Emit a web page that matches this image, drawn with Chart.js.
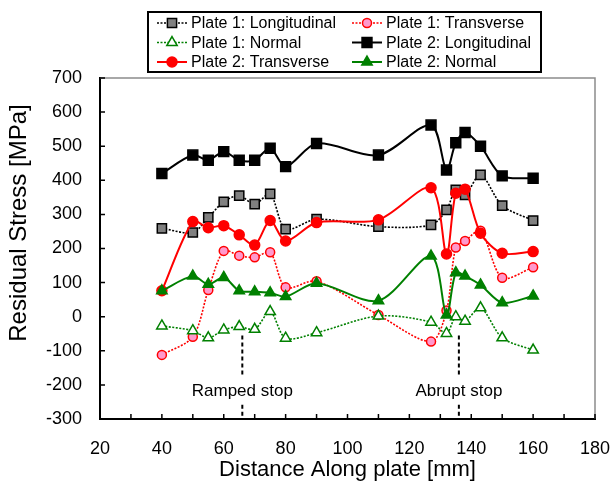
<!DOCTYPE html>
<html>
<head>
<meta charset="utf-8">
<script src="https://cdn.jsdelivr.net/npm/chart.js@4.4.1/dist/chart.umd.min.js"></script>
<style>
  html, body { margin: 0; padding: 0; background: #fff; }
  #wrap { width: 612px; height: 487px; }
</style>
</head>
<body>
<div id="wrap"><canvas id="stress-chart" width="612" height="487"></canvas></div>
<script>
// measuring positions along the plate [mm], shared by every series
var positions = [40, 50, 55, 60, 65, 70, 75, 80, 90, 110, 127, 132, 135, 138, 143, 150, 160];

// residual stress [MPa]
var plate1Long   = [259, 247, 291, 337, 355, 330, 360, 257, 286, 264, 269, 313, 372, 357, 416, 326, 282];
var plate1Trans  = [-112, -59, 78, 193, 179, 174, 189, 86, 104, 5, -73, 18, 203, 222, 252, 114, 145];
var plate1Normal = [-27, -41, -62, -39, -29, -37, 15, -63, -47, 2, -16, -49, 0, -13, 26, -62, -98];
var plate2Long   = [420, 474, 459, 484, 459, 459, 494, 440, 508, 474, 562, 430, 510, 540, 500, 413, 406];
var plate2Trans  = [76, 279, 261, 267, 240, 210, 282, 222, 276, 284, 378, 184, 362, 374, 245, 186, 191];
var plate2Normal = [76, 119, 95, 115, 76, 73, 70, 59, 98, 47, 178, 5, 129, 119, 93, 41, 61];

// stop markers
var stopPositions = [66, 136];
var stopLabels = ["Ramped stop", "Abrupt stop"];
var stopLineSpans = [[-55, -178], [-258, -300]];
var stopLabelLevel = -218;

// axes
var xTickValues = [20, 40, 60, 80, 100, 120, 140, 160, 180];
var xMinorStep = 10;
var yTickValues = [-300, -200, -100, 0, 100, 200, 300, 400, 500, 600, 700];

var FONT = '"Liberation Sans", Arial, Helvetica, sans-serif';

function toPoints(ys) {
    return positions.map(function (x, i) { return { x: x, y: ys[i] }; });
}

// styles for each series (also used by the legend)
var series = [
    { label: "Plate 1: Longitudinal", data: plate1Long,   color: "#000000", dash: [2, 1.5], shape: "rect",     r: 6.5, fill: "#808080", width: 1.6 },
    { label: "Plate 1: Transverse",   data: plate1Trans,  color: "#ff0000", dash: [2, 1.5], shape: "circle",   r: 4.5, fill: "#ff99cc", width: 1.6 },
    { label: "Plate 1: Normal",       data: plate1Normal, color: "#008000", dash: [2, 1.5], shape: "triangle", r: 6,   fill: "#ffffff", width: 1.6 },
    { label: "Plate 2: Longitudinal", data: plate2Long,   color: "#000000", dash: [],       shape: "rect",     r: 7,   fill: "#000000", width: 2 },
    { label: "Plate 2: Transverse",   data: plate2Trans,  color: "#ff0000", dash: [],       shape: "circle",   r: 5,   fill: "#ff0000", width: 2 },
    { label: "Plate 2: Normal",       data: plate2Normal, color: "#008000", dash: [],       shape: "triangle", r: 6,   fill: "#008000", width: 2 }
];

var datasets = series.map(function (s, i) {
    return {
        label: s.label,
        data: toPoints(s.data),
        borderColor: s.color,
        borderWidth: s.width,
        borderDash: s.dash,
        backgroundColor: s.fill,
        pointStyle: s.shape,
        pointRadius: s.r,
        pointHoverRadius: s.r,
        pointBackgroundColor: s.fill,
        pointBorderColor: s.color,
        pointBorderWidth: 1.5,
        tension: 0.3,
        fill: false,
        order: series.length - i
    };
});

// dashed stop lines
stopPositions.forEach(function (pos) {
    var pts = [];
    stopLineSpans.forEach(function (span, k) {
        if (k > 0) pts.push({ x: pos, y: null });
        pts.push({ x: pos, y: span[0] });
        pts.push({ x: pos, y: span[1] });
    });
    datasets.push({
        label: "stop",
        data: pts,
        borderColor: "#000000",
        borderWidth: 2,
        borderDash: [4, 3],
        pointRadius: 0,
        tension: 0,
        spanGaps: false,
        order: 10
    });
});

function drawMarker(ctx, s, x, y) {
    ctx.save();
    ctx.setLineDash([]);
    ctx.fillStyle = s.fill;
    ctx.strokeStyle = s.color;
    ctx.lineWidth = 1.5;
    ctx.beginPath();
    if (s.shape === "rect") {
        var h = s.r * Math.SQRT1_2;
        ctx.rect(x - h, y - h, 2 * h, 2 * h);
    } else if (s.shape === "circle") {
        ctx.arc(x, y, s.r, 0, Math.PI * 2);
    } else {
        var a = 0;
        ctx.moveTo(x + Math.sin(a) * s.r, y - Math.cos(a) * s.r);
        a += Math.PI * 2 / 3;
        ctx.lineTo(x + Math.sin(a) * s.r, y - Math.cos(a) * s.r);
        a += Math.PI * 2 / 3;
        ctx.lineTo(x + Math.sin(a) * s.r, y - Math.cos(a) * s.r);
        ctx.closePath();
    }
    ctx.fill();
    ctx.stroke();
    ctx.restore();
}

// frame, inner ticks, titles, stop labels and legend box
var extras = {
    id: "extras",
    afterDraw: function (chart) {
        var ctx = chart.ctx;
        var area = chart.chartArea;
        var xs = chart.scales.x, ys = chart.scales.y;

        ctx.save();
        // gray top/right frame
        ctx.strokeStyle = "#8c8c8c";
        ctx.lineWidth = 1.5;
        ctx.beginPath();
        ctx.moveTo(area.left, area.top);
        ctx.lineTo(area.right, area.top);
        ctx.lineTo(area.right, area.bottom);
        ctx.stroke();

        // inward tick marks
        ctx.strokeStyle = "#000";
        ctx.lineWidth = 1.5;
        ctx.beginPath();
        for (var v = xs.min; v <= xs.max; v += xMinorStep) {
            var px = xs.getPixelForValue(v);
            ctx.moveTo(px, area.bottom);
            ctx.lineTo(px, area.bottom - 5);
        }
        yTickValues.forEach(function (t) {
            var py = ys.getPixelForValue(t);
            ctx.moveTo(area.left, py);
            ctx.lineTo(area.left + 5, py);
        });
        ctx.stroke();

        // y axis title
        ctx.fillStyle = "#000";
        ctx.font = "24px " + FONT;
        ctx.textAlign = "center";
        ctx.textBaseline = "middle";
        ctx.save();
        ctx.translate(19, 223);
        ctx.rotate(-Math.PI / 2);
        ctx.fillText("Residual Stress [MPa]", 0, 0);
        ctx.restore();

        // stop labels
        ctx.font = "17px " + FONT;
        stopPositions.forEach(function (pos, i) {
            ctx.fillText(stopLabels[i], xs.getPixelForValue(pos), ys.getPixelForValue(stopLabelLevel));
        });

        // legend
        var bx = 148, by = 12, bw = 393, bh = 60;
        ctx.fillStyle = "#fff";
        ctx.fillRect(bx, by, bw, bh);
        ctx.strokeStyle = "#000";
        ctx.lineWidth = 2;
        ctx.strokeRect(bx, by, bw, bh);
        ctx.font = "16px " + FONT;
        ctx.textAlign = "left";
        series.forEach(function (s, i) {
            var col = i % 2, row = Math.floor(i / 2);
            var lx = col === 0 ? 157 : 352;
            var ly = 23 + row * 19.5;
            ctx.strokeStyle = s.color;
            ctx.lineWidth = s.width;
            ctx.setLineDash(s.dash);
            ctx.beginPath();
            ctx.moveTo(lx, ly);
            ctx.lineTo(lx + 30, ly);
            ctx.stroke();
            ctx.setLineDash([]);
            drawMarker(ctx, s, lx + 15, ly);
            ctx.fillStyle = "#000";
            ctx.fillText(s.label, lx + 34, ly + 1);
        });
        ctx.restore();
    }
};

var chart = new Chart(document.getElementById("stress-chart").getContext("2d"), {
    type: "line",
    data: { datasets: datasets },
    options: {
        responsive: false,
        animation: false,
        devicePixelRatio: 1,
        layout: { padding: { top: 78, right: 17, left: 0, bottom: 0 } },
        plugins: {
            legend: { display: false },
            tooltip: { enabled: false }
        },
        scales: {
            x: {
                type: "linear",
                min: xTickValues[0],
                max: xTickValues[xTickValues.length - 1],
                afterBuildTicks: function (scale) {
                    scale.ticks = xTickValues.map(function (v) { return { value: v }; });
                },
                afterFit: function (scale) {
                    scale.height = 68;
                    scale.paddingLeft = 0;
                    scale.paddingRight = 0;
                },
                grid: { display: true, drawOnChartArea: false, drawTicks: false },
                border: { display: true, color: "#000", width: 2 },
                ticks: {
                    color: "#000",
                    padding: 19,
                    maxRotation: 0,
                    font: { family: FONT, size: 18 },
                    callback: function (v) { return String(v); }
                },
                title: {
                    display: true,
                    text: "Distance Along plate [mm]",
                    color: "#000",
                    font: { family: FONT, size: 22 },
                    padding: { top: 0, bottom: 4 }
                }
            },
            y: {
                type: "linear",
                min: yTickValues[0],
                max: yTickValues[yTickValues.length - 1],
                afterBuildTicks: function (scale) {
                    scale.ticks = yTickValues.map(function (v) { return { value: v }; });
                },
                afterFit: function (scale) {
                    scale.width = 100;
                    scale.paddingTop = 0;
                    scale.paddingBottom = 0;
                },
                grid: { display: true, drawOnChartArea: false, drawTicks: false },
                border: { display: true, color: "#000", width: 2 },
                ticks: {
                    color: "#000",
                    padding: 18,
                    font: { family: FONT, size: 18 },
                    callback: function (v) { return String(v); }
                }
            }
        }
    },
    plugins: [extras]
});
</script>
</body>
</html>
